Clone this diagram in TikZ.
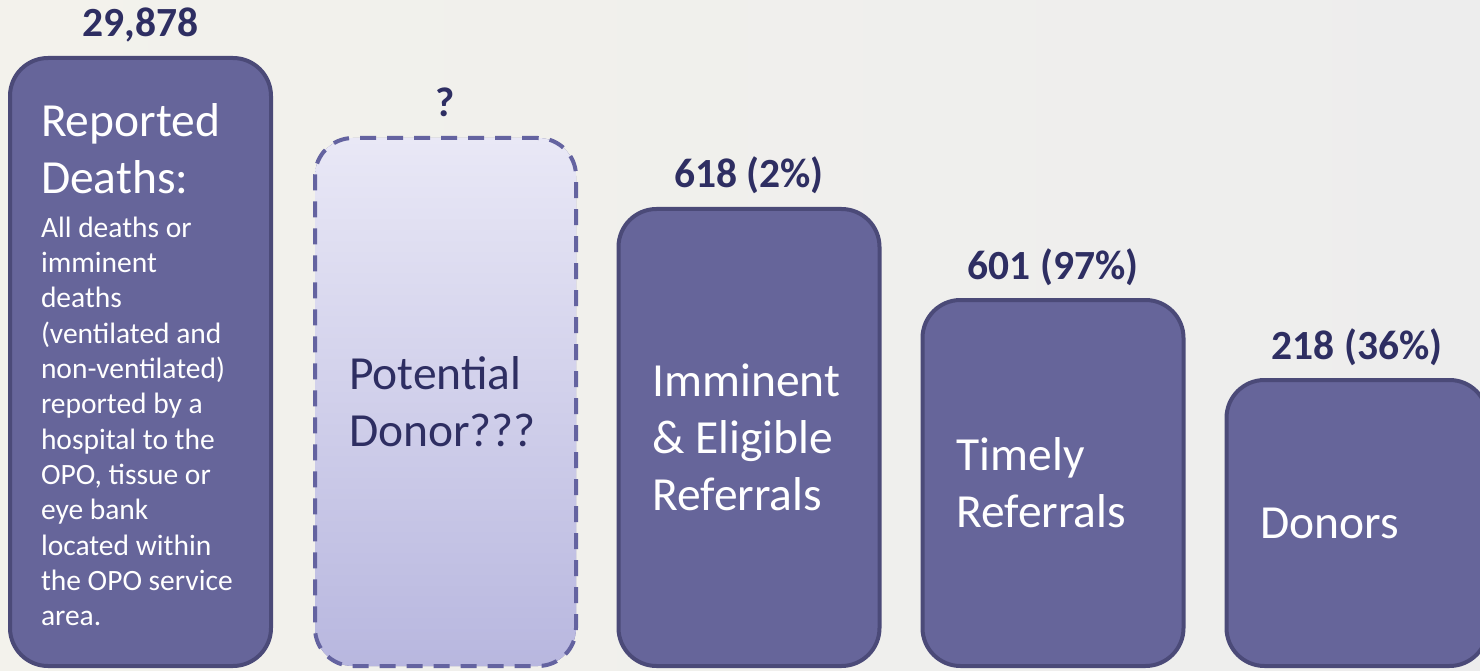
\documentclass[tikz,border=0pt]{standalone}
\usepackage{fontspec}
\setmainfont{Carlito}
\usetikzlibrary{positioning}
\definecolor{boxfill}{HTML}{66659A}
\definecolor{boxline}{HTML}{4B4A78}
\definecolor{numtext}{HTML}{2E2E62}
\definecolor{dashline}{HTML}{6463A0}
\definecolor{dashtop}{HTML}{E9E8F6}
\definecolor{dashbot}{HTML}{B8B7DF}
\definecolor{bgleft}{HTML}{F3F2EC}
\definecolor{bgright}{HTML}{EDEDED}
\newcommand{\bigtxt}{\fontsize{47.5}{57}\selectfont}
\newcommand{\smalltxt}{\fontsize{29.5}{35.3}\selectfont}
\newcommand{\numtxt}{\fontsize{41.5}{48}\selectfont\bfseries}
\tikzset{
  stage/.style={draw=boxline, line width=4pt, fill=boxfill, rounded corners=38pt,
    minimum width=261pt, text width=193pt, align=flush left, text=white, font=\bigtxt},
  maybe/.style={stage, draw=dashline, top color=dashtop, bottom color=dashbot,
    dash pattern=on 16pt off 11pt, text=numtext},
  count/.style={anchor=base, text=numtext, font=\numtxt}
}
\begin{document}
\begin{tikzpicture}[x=1pt,y=-1pt]
        \useasboundingbox (0,0) rectangle (1480,671);
        \clip (0,0) rectangle (1480,671);
        \shade[left color=bgleft, right color=bgright] (0,0) rectangle (1480,671);
        % the five stages
        \node[stage, text width=199pt, minimum height=608pt] (deaths) at (140.5,362) {Reported\\Deaths:\par\vspace{9pt}\smalltxt All~deaths~or\\imminent\\deaths\\(ventilated~and\\non-ventilated)\\reported~by~a\\hospital~to~the\\OPO,~tissue~or\\eye~bank\\located~within\\the~OPO~service\\area.\par\vspace{-5pt}};
        \node[maybe, minimum height=528pt] (potential) at (445.5,402) {Potential\\Donor???};
        \node[stage, minimum height=457pt] (eligible) at (749,437.5) {Imminent\\\&~Eligible\\Referrals};
        \node[stage, minimum height=366pt] (timely) at (1053,483) {Timely\\Referrals};
        \node[stage, minimum height=286pt] (donors) at (1357,523) {Donors};
        % counts
        \node[count] (ndeaths) at ([yshift=19pt]deaths.north) {29,878};
        \node[count] (npotential) at ([yshift=19pt]potential.north) {?};
        \node[count] (neligible) at ([yshift=19pt]eligible.north) {618 (2\%)};
        \node[count] (ntimely) at ([yshift=19pt]timely.north) {601 (97\%)};
        \node[count] (ndonors) at ([yshift=19pt]donors.north) {218 (36\%)};
\end{tikzpicture}
\end{document}
